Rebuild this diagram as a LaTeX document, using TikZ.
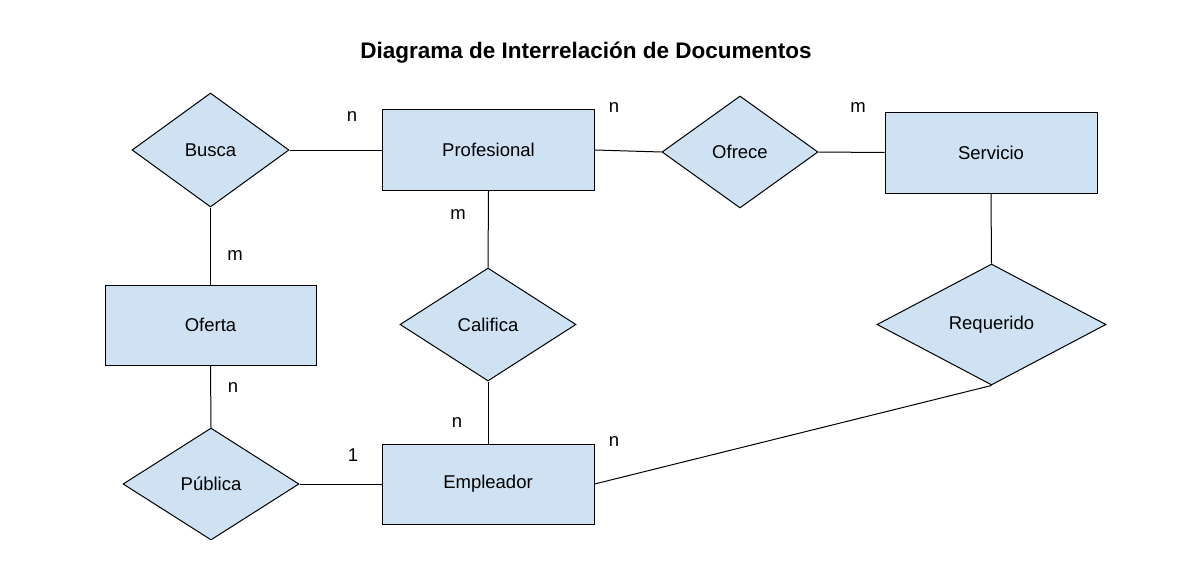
\documentclass[tikz,border=0pt]{standalone}
\usepackage{fontspec}
\setmainfont{Liberation Sans}
\usepackage{tikz}
\usetikzlibrary{shapes.geometric}
\usepackage{xcolor}
\definecolor{erblue}{HTML}{CFE2F3}

\begin{document}
\begin{tikzpicture}[x=1pt,y=1pt,line width=1pt,
  entity/.style={draw, fill=erblue, rectangle, minimum width=212pt, minimum height=81pt, inner sep=0pt, font=\fontsize{18.5}{22}\selectfont},
  relation/.style={draw, fill=erblue, diamond, inner sep=0pt, font=\fontsize{18.5}{22}\selectfont},
  card/.style={inner sep=0pt, font=\fontsize{18.5}{22}\selectfont}]
  \useasboundingbox[fill=white] (0,0) rectangle (1184,-560);
  \node[font=\bfseries\fontsize{22.5}{26}\selectfont, anchor=base] (title) at (586,-58) {Diagrama de Interrelación de Documentos};
  % entities
  \node[entity] (prof) at (488.5,-150) {Profesional};
  \node[entity] (serv) at (991,-152.5) {Servicio};
  \node[entity, minimum width=211pt, minimum height=80pt] (ofer) at (210.5,-325) {Oferta};
  \node[entity, minimum height=80pt] (empl) at (488,-484) {Empleador};
  % relations
  \node[relation, minimum width=157pt, minimum height=114pt] (busca) at (210.5,-150) {Busca};
  \node[relation, minimum width=156pt, minimum height=112pt] (ofrece) at (740,-152) {Ofrece};
  \node[relation, minimum width=176pt, minimum height=113pt] (calif) at (488,-324.5) {Califica};
  \node[relation, minimum width=229pt, minimum height=121pt] (req) at (991.5,-324.5) {Requerido};
  \node[relation, minimum width=176pt, minimum height=112pt] (pub) at (211,-484) {Pública};
  % connectors
  \foreach \a/\b in {busca.east/prof.west, prof.east/ofrece.west, ofrece.east/serv.west,
                     busca.south/ofer.north, prof.south/calif.north, calif.south/empl.north,
                     serv.south/req.north, ofer.south/pub.north, pub.east/empl.west,
                     empl.east/req.south}
    \draw (\a) -- (\b);
  % cardinalities
  \foreach \t/\x/\y [count=\i] in {n/352/117, n/614/108, m/858/108, m/235/256, m/458/215,
                                   n/457/423, n/233/388, 1/353/455, n/614/442}
    \node[card] (c\i) at (\x,-\y) {\t};
\end{tikzpicture}
\end{document}
